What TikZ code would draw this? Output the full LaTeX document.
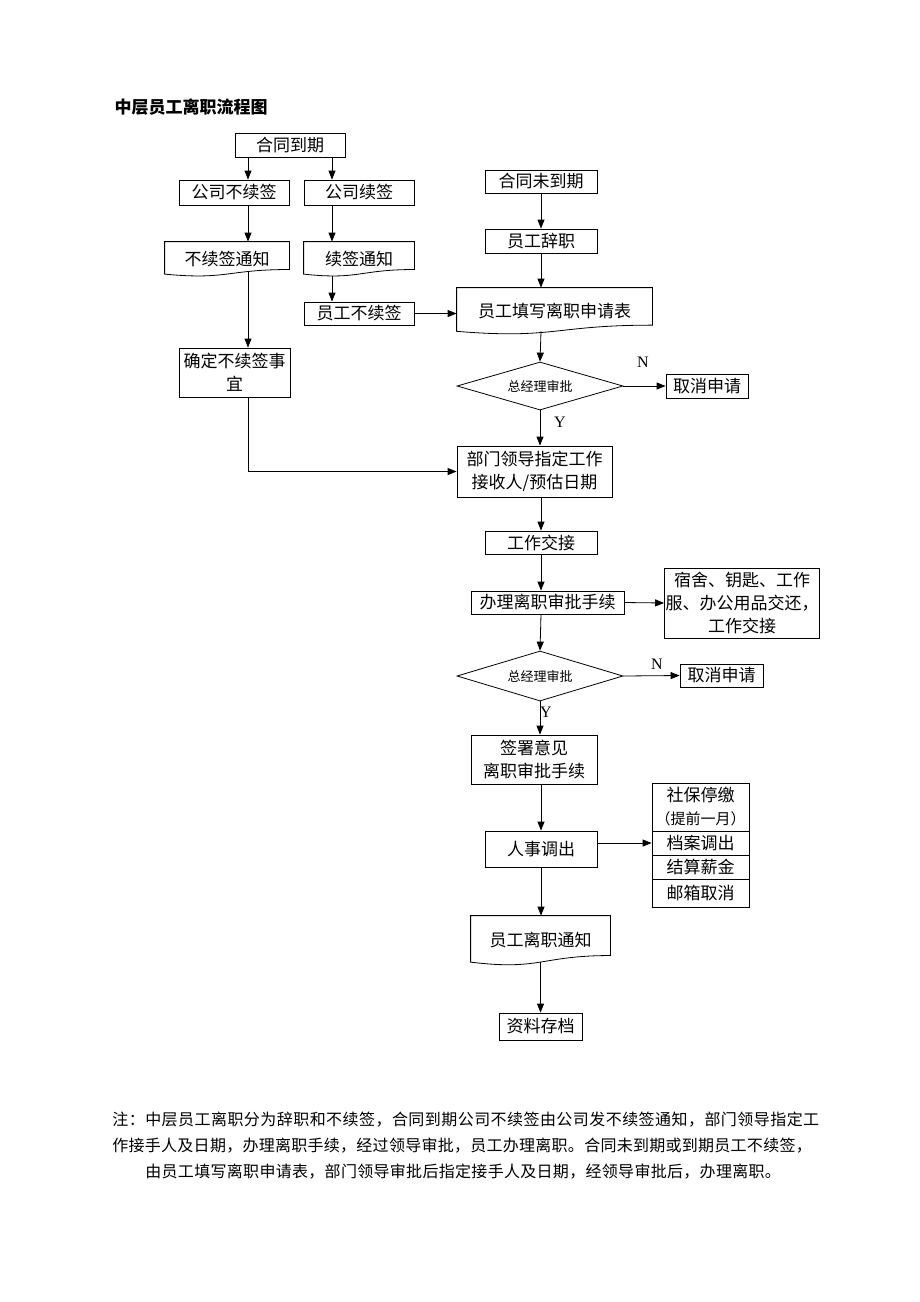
\documentclass[tikz,border=0pt]{standalone}
\usepackage{fontspec}
\setmainfont{Noto Sans CJK SC}
\newfontfamily\latinserif{Liberation Serif}
\usetikzlibrary{arrows.meta,shapes.geometric,calc}

% frame of a document shape (wavy bottom) round a named node
\newcommand{\docframe}[1]{%
  \draw (#1.north west) -- (#1.north east) -- ($(#1.north east)!0.802!(#1.south east)$)
    .. controls ($(#1.north)!0.802!(#1.south)$) and ($(#1.north)!1.107!(#1.south)$)
    .. ($(#1.north west)!0.934!(#1.south west)$) -- cycle;}

\begin{document}
\begin{tikzpicture}[x=1pt, y=-1pt, line width=0.8pt, >={Triangle[length=9pt,width=7pt]},
  every node/.style={font=\fontsize{17}{21}\selectfont},
  proc/.style={draw, inner sep=1pt, align=center},
  docnode/.style={inner sep=1pt, align=center},
  decide/.style={draw, diamond, aspect=3.4, inner sep=0pt, font=\fontsize{13}{15}\selectfont},
  yn/.style={font=\latinserif\fontsize{16}{18}\selectfont},
  notetext/.style={anchor=west, inner sep=0pt}]
\useasboundingbox (0,0) rectangle (920,1302);

\node[anchor=west, font=\bfseries\fontsize{17}{20}\selectfont] (title) at (111,107) {中层员工离职流程图};

\coordinate (lcol) at (248,0);
\coordinate (rcol) at (332,0);
\coordinate (mcol) at (541,0);

% left part: contract ends
\node[proc, minimum width=110pt, minimum height=24pt] (ht) at (290,145) {合同到期};
\node[proc, minimum width=110pt, minimum height=25pt] (bxq) at (234,192.5) {公司不续签};
\node[proc, minimum width=110pt, minimum height=25pt] (xq) at (359,192.5) {公司续签};
\node[docnode, minimum width=124pt, minimum height=34pt] (bxtz) at (227,259) {不续签通知};
\docframe{bxtz}
\node[docnode, minimum width=110pt, minimum height=34pt] (xtz) at (359,259) {续签通知};
\docframe{xtz}
\node[proc, minimum width=110pt, minimum height=23pt] (ygbxq) at (359,313.5) {员工不续签};
\node[proc, minimum width=111pt, minimum height=49pt, font=\fontsize{17}{23}\selectfont] (qd) at (234.5,372.5) {确定不续签事\\宜};

\draw[->] (ht.south -| lcol) -- (bxq.north -| lcol);
\draw[->] (ht.south -| rcol) -- (xq.north -| rcol);
\draw[->] (bxq.south -| lcol) -- (bxtz.north -| lcol);
\draw[->] (xq.south -| rcol) -- (xtz.north -| rcol);
\draw[->] ([yshift=4.5pt]bxtz.south -| lcol) -- (qd.north -| lcol);
\draw[->] ([yshift=0.5pt]xtz.south -| rcol) -- (ygbxq.north -| rcol);

% right part: contract not ended
\node[proc, minimum width=112pt, minimum height=23pt] (wdq) at (541,181.5) {合同未到期};
\node[proc, minimum width=112pt, minimum height=24pt] (cz) at (541,241) {员工辞职};
\node[docnode, minimum width=195pt, minimum height=46pt] (sq) at (554.5,311) {员工填写离职申请表};
\docframe{sq}
\node[decide, minimum width=166pt, minimum height=48pt] (sp1) at (540,386) {总经理审批};
\node[proc, minimum width=82pt, minimum height=24pt] (qx1) at (707,386) {取消申请};
\node[yn] (n1) at (643,362) {N};
\node[yn] (y1) at (560,422) {Y};
\node[proc, minimum width=155pt, minimum height=51pt, font=\fontsize{17}{23}\selectfont] (bm) at (534.5,471.5) {部门领导指定工作\\接收人/预估日期};

\draw[->] (wdq) -- (cz);
\draw[->] (cz.south) -- (cz.south |- sq.north);
\draw[->] (ygbxq.east) -- (ygbxq.east -| sq.west);
\draw[->] ([yshift=3pt]sq.south -| mcol) -- (sp1.north);
\draw[->] (sp1.east) -- (qx1.west);
\draw[->] (sp1.south) -- (sp1.south |- bm.north);
\draw[->] (qd.south -| lcol) -- (lcol |- bm.west) -- (bm.west);

% hand over and approval
\node[proc, minimum width=112pt, minimum height=23pt] (gj) at (541,542.5) {工作交接};
\node[proc, minimum width=153pt, minimum height=23pt] (bl) at (547.5,602.5) {办理离职审批手续};
\node[proc, minimum width=154pt, minimum height=70pt, font=\fontsize{17}{23}\selectfont] (ss) at (742,603) {宿舍、钥匙、工作\\服、办公用品交还，\\工作交接};
\node[decide, minimum width=166pt, minimum height=50pt] (sp2) at (540,676) {总经理审批};
\node[proc, minimum width=83pt, minimum height=23pt] (qx2) at (721.5,675.5) {取消申请};
\node[yn] (n2) at (657,664) {N};
\node[yn] (y2) at (546,712) {Y};

\draw[->] (bm.south -| mcol) -- (gj.north);
\draw[->] (gj.south) -- (gj.south |- bl.north);
\draw[->] (bl.east) -- (ss.west);
\draw[->] (bl.south -| mcol) -- (sp2.north);
\draw[->] (sp2.east) -- (qx2.west);

% signing, transfer, archive
\node[proc, minimum width=126pt, minimum height=49pt, font=\fontsize{17}{23}\selectfont] (qs) at (534,759.5) {签署意见\\离职审批手续};
\node[proc, minimum width=112pt, minimum height=36pt] (rs) at (541,849) {人事调出};
\node[proc, minimum width=97pt, minimum height=48pt, font=\fontsize{17}{23}\selectfont] (sb) at (700.5,807) {社保停缴\\{\fontsize{15}{18}\selectfont（提前一月）}};
\node[proc, minimum width=97pt, minimum height=24pt] (da) at (700.5,843) {档案调出};
\node[proc, minimum width=97pt, minimum height=24pt] (js) at (700.5,867) {结算薪金};
\node[proc, minimum width=97pt, minimum height=28pt] (yx) at (700.5,893) {邮箱取消};
\node[docnode, minimum width=139pt, minimum height=49pt] (lz) at (540.5,940.5) {员工离职通知};
\docframe{lz}
\node[proc, minimum width=83pt, minimum height=27pt] (zl) at (540.5,1026.5) {资料存档};

\draw[->] (sp2.south) -- (sp2.south |- qs.north);
\draw[->] (qs.south -| mcol) -- (rs.north);
\draw[->] (rs.east |- da) -- (da.west);
\draw[->] (rs.south) -- (lz.north -| rs.south);
\draw[->] ([yshift=3pt]lz.south) -- (zl.north);

% note
\node[notetext, font=\fontsize{16}{18}\selectfont\addfontfeature{LetterSpace=2.8}] (note1) at (112,1120) {注：中层员工离职分为辞职和不续签，合同到期公司不续签由公司发不续签通知，部门领导指定工};
\node[notetext, font=\fontsize{16}{18}\selectfont\addfontfeature{LetterSpace=1.7}] (note2) at (112,1146) {作接手人及日期，办理离职手续，经过领导审批，员工办理离职。合同未到期或到期员工不续签，};
\node[notetext, font=\fontsize{16}{18}\selectfont\addfontfeature{LetterSpace=1.9}] (note3) at (145,1172) {由员工填写离职申请表，部门领导审批后指定接手人及日期，经领导审批后，办理离职。};
\end{tikzpicture}
\end{document}
